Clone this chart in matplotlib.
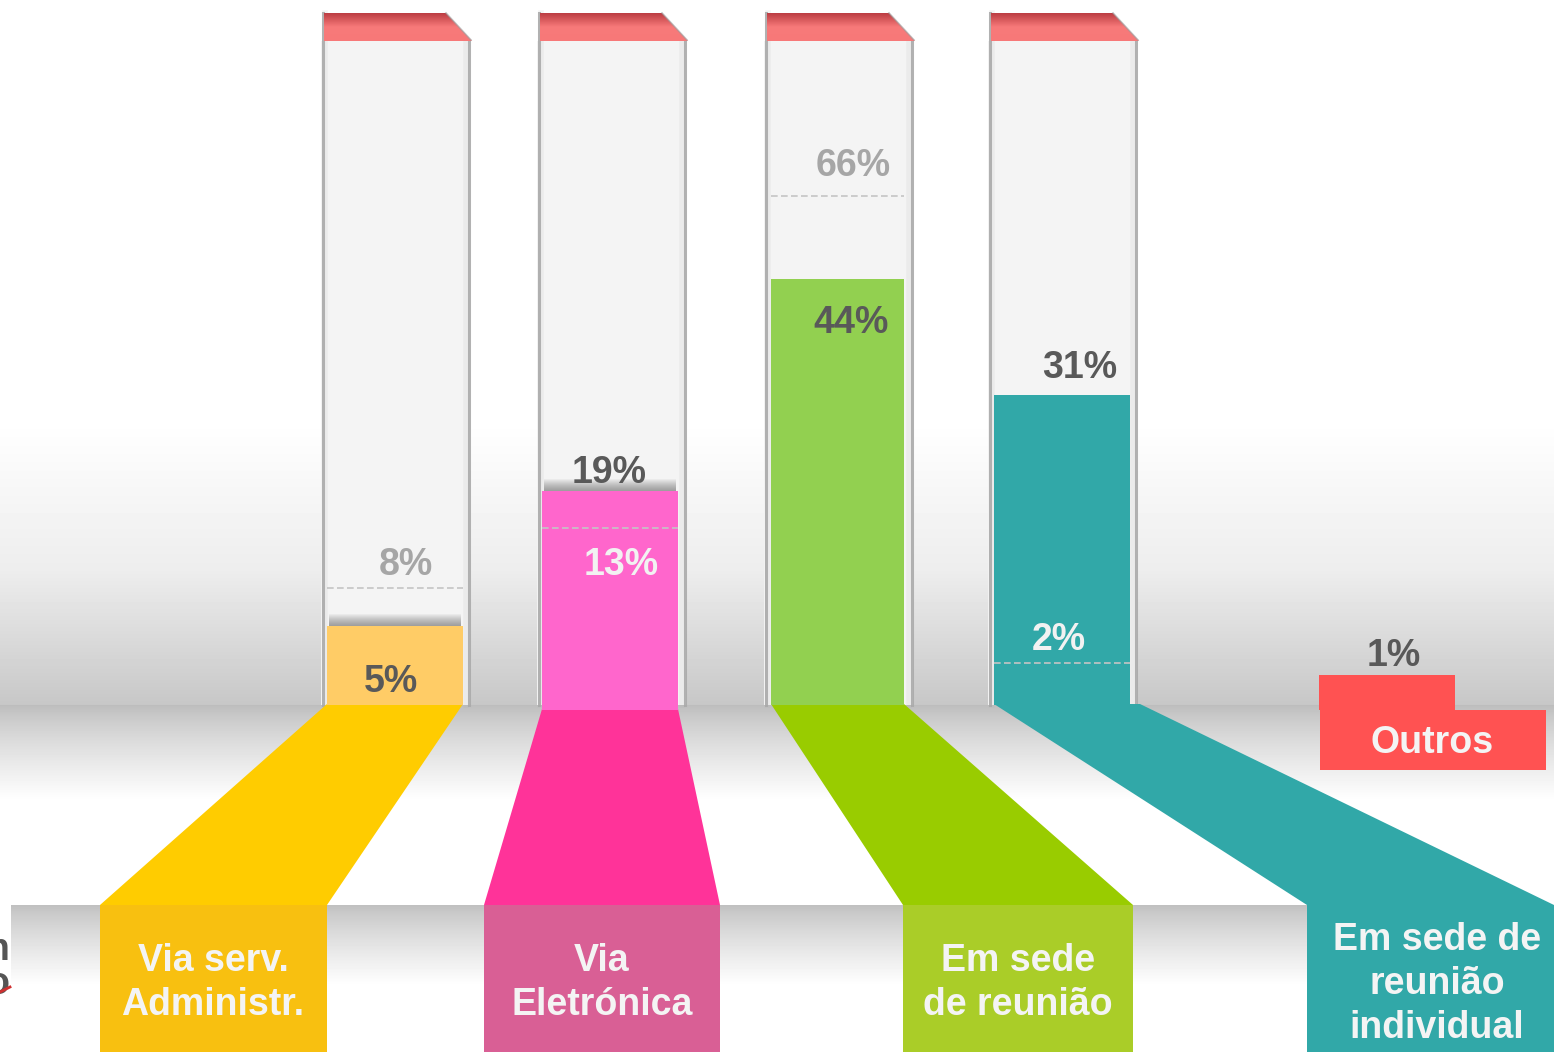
import numpy as np
import matplotlib.pyplot as plt
from matplotlib.patches import Polygon, Rectangle
from matplotlib.colors import LinearSegmentedColormap

plt.rcParams['font.family'] = ['Liberation Sans', 'DejaVu Sans']

# data (bars are not drawn to scale in the original)
categories = ["Via serv.\nAdministr.", "Via\nEletrónica", "Em sede\nde reunião", "Em sede de\nreunião\nindividual"]
values = [5, 19, 44, 31]
prev_values = [8, 13, 66, 2]
heights = [79, 214, 426, 310]
prev_heights = [117, 177, 509, 42]
other_label = "Outros"
other_value = 1
other_height = 30

# colours
bar_colors = ["#ffcc66", "#ff66cc", "#92d050", "#31a8a8"]
trap_colors = ["#ffcc00", "#ff3399", "#99cc00", "#31a8a8"]
box_colors = ["#f8c010", "#d95f95", "#aacd28", "#31a8a8"]
value_colors = ["#595959", "#595959", "#595959", "#595959"]
prev_colors = ["#a6a6a6", "#f2f2f2", "#a6a6a6", "#f2f2f2"]
other_color = "#ff5252"

# layout (pixel-like units, baseline at y=0)
W, TOP, BOT = 1554, 705, -347
tube_left = [321, 537, 764, 988]
tube_w = 149
bar_left = [327, 542, 771, 994]
bar_w = [136, 136, 133, 136]
bar_bottom = [0, -5, 0, 0]
trap_top_r = [463, 678, 904, 1140]
box_l = [100, 484, 903, 1307]
box_r = [327, 720, 1133, 1554]
box_top = -200
val_pos = [(391, 23), (609, 232), (851, 382), (1080, 337)]
prev_pos = [(406, 140), (621, 140), (853, 539), (1059, 65)]
label_pos = [(213, -278), (602, -278), (1018, -278), (1437, -279)]
fs = 27

fig = plt.figure(figsize=(15.54, 10.52), dpi=100)
ax = fig.add_axes([0, 0, 1, 1])
ax.set_xlim(0, W)
ax.set_ylim(BOT, TOP)
ax.axis('off')

# background gradients
rows = np.arange(1052)
g = np.ones(1052)
s = (rows >= 420) & (rows < 570)
g[s] = 1 - 0.07 * (rows[s] - 420) / 150
s = (rows >= 570) & (rows < 705)
g[s] = 0.93 - 0.15 * (rows[s] - 570) / 135
s = (rows >= 705) & (rows < 800)
g[s] = 0.74 + 0.26 * ((rows[s] - 705) / 95) ** 0.8
s = (rows >= 905) & (rows < 985)
g[s] = 0.75 + 0.25 * ((rows[s] - 905) / 80) ** 0.8
bg = np.tile(g[:, None], (1, W))
bg[905:985, :11] = 1.0
ax.imshow(bg, cmap='gray', vmin=0, vmax=1, extent=[0, W, BOT, TOP],
          aspect='auto', zorder=0, interpolation='bilinear')

# partial text cut off at the left edge (as in the source slide)
ax.text(9, -262, "n\no", ha='right', va='center', fontsize=fs, fontweight='bold',
        color='#555555', linespacing=0.95, zorder=1)
ax.plot([0, 10], [-287, -282], color='#d03030', lw=2, zorder=1)

# ghost tubes with red caps
red_cmap = LinearSegmentedColormap.from_list('cap', ['#bd3e44', '#f87a7a', '#f77878'])
cap_bot, cap_top = 664, 692
for x0 in tube_left:
    x1 = x0 + tube_w
    ax.add_patch(Rectangle((x0, 0), tube_w, cap_bot, facecolor='#f4f4f4',
                           edgecolor='none', zorder=1))
    for dx, lw, a in [(1.5, 2.2, 0.9), (4, 4, 0.12)]:
        ax.plot([x0 + dx, x0 + dx], [0, cap_top], color='#aaaaaa', lw=lw, alpha=a, zorder=1.2)
        ax.plot([x1 - dx, x1 - dx], [0, cap_bot], color='#aaaaaa', lw=lw, alpha=a, zorder=1.2)
    cap = Polygon([(x0 + 3, cap_bot), (x0 + 3, cap_top), (x1 - 24, cap_top), (x1 + 2, cap_bot)],
                  closed=True, facecolor='none', edgecolor='none')
    ax.add_patch(cap)
    grad = np.linspace(0, 1, 28)[:, None]
    im = ax.imshow(np.tile(grad, (1, 2)), cmap=red_cmap, extent=[x0, x1 + 3, cap_bot, cap_top],
                   aspect='auto', zorder=1.5, origin='upper')
    im.set_clip_path(cap)
    ax.plot([x1 - 24, x1 + 1], [cap_top, cap_bot + 1], color='#999999', lw=1.2, alpha=0.6, zorder=1.6)

# bars (bottom can sit slightly below the baseline, top stays at the read height)
bar_h = np.array(heights) - np.array(bar_bottom)
ax.bar(bar_left, bar_h, width=bar_w, bottom=bar_bottom, align='edge',
       color=bar_colors, edgecolor='none', zorder=3)

# soft shadow above the two short bars
for i in range(2):
    top = heights[i]
    for k in range(12):
        ax.add_patch(Rectangle((bar_left[i] + 2, top), bar_w[i] - 4, k + 1,
                               facecolor='#505050', alpha=0.055, edgecolor='none', zorder=2))

# previous values (dashed marks) and current values
for i in range(4):
    ax.hlines(prev_heights[i], bar_left[i], bar_left[i] + bar_w[i], colors='#c4c4c4',
              linestyles=(0, (4, 2)), lw=1.2, zorder=4)
    ax.text(prev_pos[i][0], prev_pos[i][1], f"{prev_values[i]}%", ha='center', va='center',
            fontsize=fs, fontweight='bold', color=prev_colors[i], zorder=5)
    ax.text(val_pos[i][0], val_pos[i][1], f"{values[i]}%", ha='center', va='center',
            fontsize=fs, fontweight='bold', color=value_colors[i], zorder=5)

# connectors and label boxes
for i in range(4):
    y_top = min(bar_bottom[i], 0) + 1
    trap = Polygon([(bar_left[i], y_top), (trap_top_r[i], y_top),
                    (box_r[i], box_top), (box_l[i], box_top)],
                   closed=True, facecolor=trap_colors[i], edgecolor='none', zorder=2.5)
    ax.add_patch(trap)
    ax.add_patch(Rectangle((box_l[i], BOT), box_r[i] - box_l[i], box_top - BOT,
                           facecolor=box_colors[i], edgecolor='none', zorder=3))
    ax.text(label_pos[i][0], label_pos[i][1], categories[i], ha='center', va='center',
            fontsize=fs, fontweight='bold', color='#f4f4f4', linespacing=1.29, zorder=5)

# "Outros"
ax.bar([1319], [other_height + 5], width=136, bottom=-5, align='edge', color=other_color, zorder=3)
ax.add_patch(Rectangle((1320, -65), 226, 60, facecolor=other_color, edgecolor='none', zorder=3))
ax.text(1394, 49, f"{other_value}%", ha='center', va='center', fontsize=fs,
        fontweight='bold', color='#595959', zorder=5)
ax.text(1432, -38, other_label, ha='center', va='center', fontsize=fs,
        fontweight='bold', color='#f4f4f4', zorder=5)

fig.savefig("out.png", dpi=100)
